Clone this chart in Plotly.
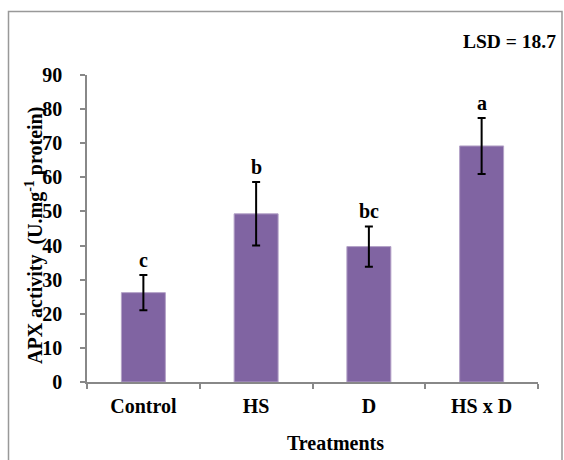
import plotly.graph_objects as go

# APX activity by treatment, mean ± error, with significance letters
treatments = ["Control", "HS", "D", "HS x D"]
apx_mean = [26.2, 49.3, 39.7, 69.2]
apx_err = [5.2, 9.3, 5.9, 8.2]
letters = ["c", "b", "bc", "a"]
lsd_label = "LSD = 18.7"

FONT = "Liberation Serif, Times New Roman, Times, serif"
W, H = 564, 460
ML, MR, MT, MB = 87, 26, 75, 78
PW, PH = W - ML - MR, H - MT - MB


def px_x(p):
    return (p - ML) / PW


def px_y(p):
    return (H - MB - p) / PH


def bold(size):
    return dict(family=FONT, size=size, color="black", weight="bold")


fig = go.Figure()
fig.add_trace(go.Bar(
    x=treatments,
    y=apx_mean,
    width=0.39,
    marker=dict(color="#8064A2", line=dict(color="#B3A2C7", width=1)),
    error_y=dict(type="data", array=apx_err, visible=True,
                 color="black", thickness=2, width=4),
    showlegend=False,
))

# significance letters above each error bar
for cat, m, e, lab in zip(treatments, apx_mean, apx_err, letters):
    fig.add_annotation(
        x=cat, y=m + e, text=lab, showarrow=False,
        yanchor="bottom", yshift=2, font=bold(20),
    )

fig.add_annotation(
    xref="paper", yref="paper", x=px_x(558), y=px_y(42),
    xanchor="right", yanchor="middle", text=lsd_label, showarrow=False,
    font=bold(19.5),
)

fig.add_annotation(
    xref="paper", yref="paper", x=px_x(34), y=px_y(236),
    xanchor="center", yanchor="middle", textangle=-90, showarrow=False,
    text="APX activity  (U.mg<sup>-1</sup> protein)", font=bold(20),
)

fig.add_annotation(
    xref="paper", yref="paper", x=px_x(335), y=px_y(443),
    xanchor="center", yanchor="middle", showarrow=False,
    text="Treatments", font=bold(20),
)

# outer frame around the chart
fig.add_shape(
    type="rect", xref="paper", yref="paper",
    x0=px_x(8.5), x1=px_x(562), y0=px_y(480), y1=px_y(11.5),
    line=dict(color="#999999", width=1.5), fillcolor="rgba(0,0,0,0)",
    layer="below",
)

fig.update_layout(
    width=W, height=H,
    margin=dict(l=ML, r=MR, t=MT, b=MB, pad=0),
    paper_bgcolor="white", plot_bgcolor="white",
    bargap=0.61,
    xaxis=dict(
        showline=True, linecolor="#888888", linewidth=1.5,
        ticks="outside", tickson="boundaries", ticklen=5,
        tickcolor="#888888", tickwidth=1.5,
        tickfont=bold(20), ticklabelstandoff=5,
        showgrid=False, zeroline=False,
    ),
    yaxis=dict(
        range=[0, 90], dtick=10,
        showline=True, linecolor="#888888", linewidth=1.5,
        ticks="outside", ticklen=5, tickcolor="#888888", tickwidth=1.5,
        tickfont=bold(20), ticklabelstandoff=14,
        showgrid=False, zeroline=False,
    ),
)

fig.write_html("out.html")
